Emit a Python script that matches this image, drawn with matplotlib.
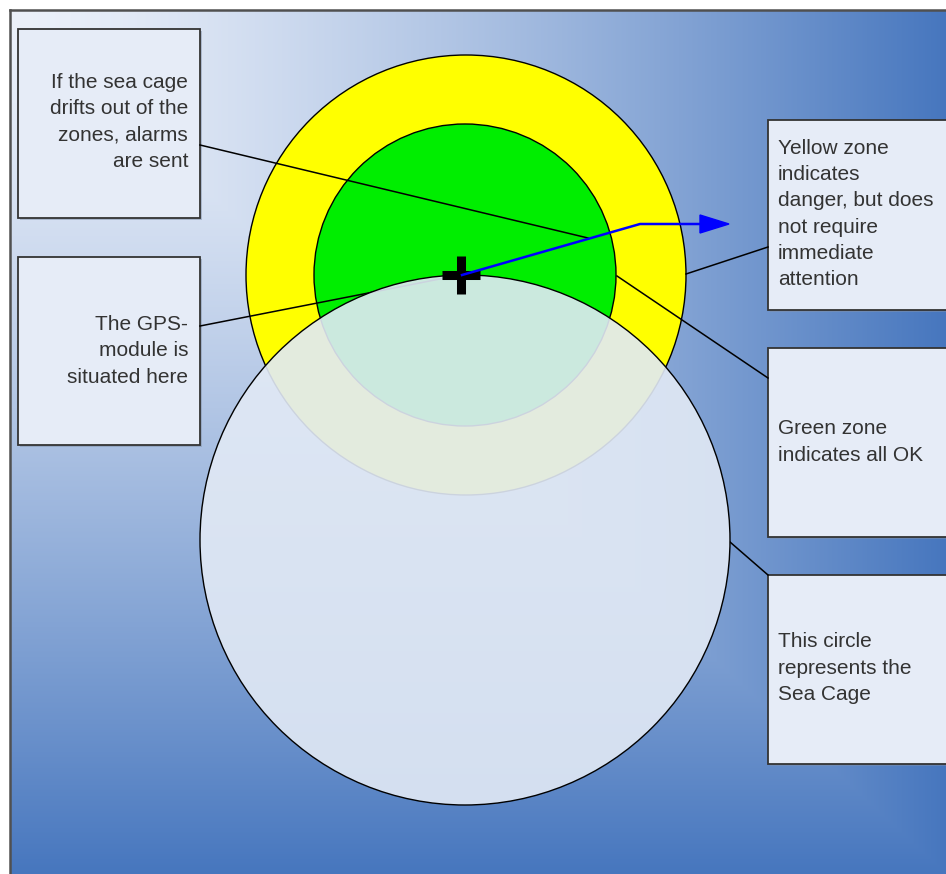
import numpy as np
import matplotlib.pyplot as plt
from matplotlib.patches import Circle, Rectangle, Polygon

plt.rcParams['font.family'] = ['Liberation Sans', 'DejaVu Sans']

# zones: yellow (danger), green (ok), sea cage
circle_names = ['yellow zone', 'green zone', 'sea cage']
circle_centers = [(466, 275), (465, 275), (465, 540)]
circle_radii = [220, 151, 265]
circle_colors = ['#ffff00', '#00ee00', '#e1e9f5']

gps_pos = (461, 275)
drift_path_x = [462, 640, 702]
drift_path_y = [275, 224, 224]

box_texts = [
    'If the sea cage\ndrifts out of the\nzones, alarms\nare sent',
    'The GPS-\nmodule is\nsituated here',
    'Yellow zone\nindicates\ndanger, but does\nnot require\nimmediate\nattention',
    'Green zone\nindicates all OK',
    'This circle\nrepresents the\nSea Cage',
]
box_x = [18, 18, 768, 768, 768]
box_y = [29, 257, 120, 348, 575]
box_w = [182, 182, 200, 200, 200]
box_h = [189, 188, 190, 189, 189]
text_x = [188, 188, 778, 778, 778]
text_y = [122, 351, 214, 442, 668]
text_align = ['right', 'right', 'left', 'left', 'left']

# connector lines (box edge -> target)
conn_x = [(200, 588), (200, 445), (768, 686), (768, 617), (768, 730)]
conn_y = [(145, 238), (326, 278), (247, 274), (378, 276), (575, 542)]

W, H = 946, 874
fig = plt.figure(figsize=(W / 100, H / 100), dpi=100)
ax = fig.add_axes([0, 0, 1, 1])
ax.set_xlim(0, W)
ax.set_ylim(H, 0)
ax.axis('off')

# background: rectangular gradient from the top-left corner
gx, gy = np.meshgrid(np.linspace(0, 1, 400), np.linspace(0, 1, 400))
d = np.maximum(gx, gy) ** 1.35
light = np.array([236, 241, 250]) / 255
blue = np.array([70, 118, 190]) / 255
img = light[None, None, :] * (1 - d[..., None]) + blue[None, None, :] * d[..., None]
ax.imshow(img, extent=[10, W + 2, H + 2, 10], aspect='auto', zorder=0)
ax.plot([10, 10], [10, H], color='#505050', lw=1.8, zorder=1)
ax.plot([10, W], [10, 10], color='#505050', lw=1.8, zorder=1)

# text boxes
for i in range(len(box_texts)):
    ax.add_patch(Rectangle((box_x[i] + 2, box_y[i] + 2), box_w[i], box_h[i],
                           facecolor='#7f8fa8', edgecolor='none', alpha=0.5, zorder=2))
    ax.add_patch(Rectangle((box_x[i], box_y[i]), box_w[i], box_h[i],
                           facecolor='#e6ecf7', edgecolor='#333333', lw=1.3, zorder=3))
    ax.text(text_x[i], text_y[i], box_texts[i], ha=text_align[i], va='center',
            multialignment=text_align[i], fontsize=15, linespacing=1.48,
            color='#333333', zorder=4)

# zones
ax.add_patch(Circle(circle_centers[0], circle_radii[0], facecolor=circle_colors[0],
                    edgecolor='black', lw=1, zorder=5))
ax.add_patch(Circle(circle_centers[1], circle_radii[1], facecolor=circle_colors[1],
                    edgecolor='black', lw=1, zorder=6))

for cx, cy in zip(conn_x, conn_y):
    ax.plot(cx, cy, color='black', lw=1.1, zorder=7)

# sea cage (semi transparent)
ax.add_patch(Circle(circle_centers[2], circle_radii[2], facecolor=circle_colors[2],
                    edgecolor='none', alpha=0.91, zorder=8))
ax.add_patch(Circle(circle_centers[2], circle_radii[2], facecolor='none',
                    edgecolor='black', lw=1, zorder=8))

# GPS cross
ax.plot([gps_pos[0] - 19, gps_pos[0] + 19], [gps_pos[1], gps_pos[1]],
        color='black', lw=6.5, solid_capstyle='butt', zorder=9)
ax.plot([gps_pos[0], gps_pos[0]], [gps_pos[1] - 19, gps_pos[1] + 19],
        color='black', lw=6.5, solid_capstyle='butt', zorder=9)

# drift arrow
ax.plot(drift_path_x, drift_path_y, color='#0000ff', lw=1.8, zorder=10)
tip = drift_path_x[-1]
ax.add_patch(Polygon([(tip - 2, drift_path_y[-1] - 9), (tip + 27, drift_path_y[-1]),
                      (tip - 2, drift_path_y[-1] + 9)], closed=True,
                     facecolor='#0000ff', edgecolor='#0000ff', zorder=10))

fig.savefig('out.png', dpi=100)
